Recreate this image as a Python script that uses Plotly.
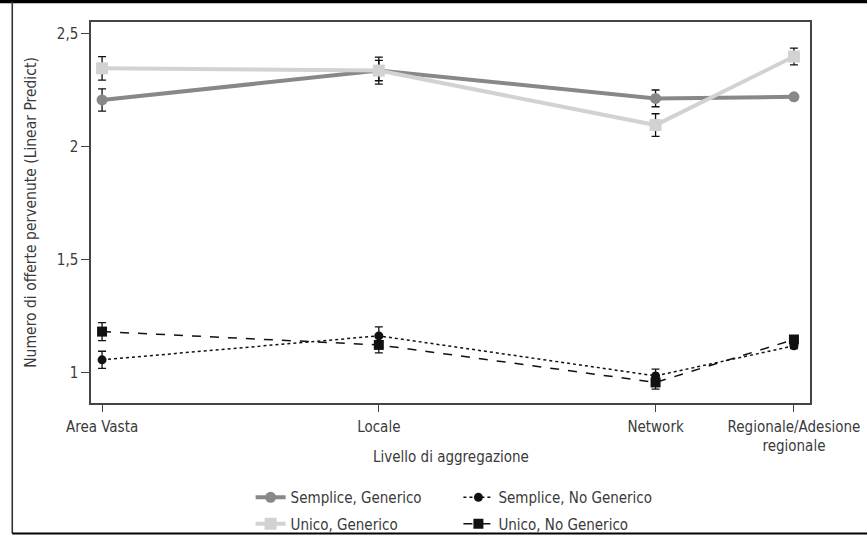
import plotly.graph_objects as go

# Aggregation levels and where they sit along the x axis
levels = ["Area Vasta", "Locale", "Network", "Regionale/Adesione<br>regionale"]
level_pos = [1, 2, 3, 3.5]

# Linear predictions and their confidence half-widths
semplice_gen = [2.208, 2.338, 2.215, 2.222]
semplice_gen_err = [0.049, 0.045, 0.037, 0.012]

unico_gen = [2.348, 2.338, 2.097, 2.400]
unico_gen_err = [0.052, 0.060, 0.050, 0.037]

semplice_nogen = [1.058, 1.164, 0.987, 1.120]
semplice_nogen_err = [0.038, 0.040, 0.030, 0.012]

unico_nogen = [1.183, 1.124, 0.958, 1.148]
unico_nogen_err = [0.040, 0.035, 0.030, 0.012]

y_ticks = [1, 1.5, 2, 2.5]
y_tick_text = ["1", "1,5", "2", "2,5"]

FONT = "Liberation Sans Narrow, Arial Narrow, DejaVu Sans Condensed, sans-serif"
TXT = "#3a3a3a"

err_style = dict(type="data", visible=True, color="#111111", thickness=1.3, width=4)

fig = go.Figure()

fig.add_trace(go.Scatter(
    x=level_pos, y=semplice_gen, name="Semplice, Generico", mode="lines+markers",
    line=dict(color="#888888", width=4),
    marker=dict(symbol="circle", size=11, color="#888888"),
    error_y=dict(array=semplice_gen_err, **err_style),
    legend="legend", legendgroup="a",
))
fig.add_trace(go.Scatter(
    x=level_pos, y=unico_gen, name="Unico, Generico", mode="lines+markers",
    line=dict(color="#d2d2d2", width=4),
    marker=dict(symbol="square", size=12, color="#d2d2d2"),
    error_y=dict(array=unico_gen_err, **err_style),
    legend="legend", legendgroup="b",
))
fig.add_trace(go.Scatter(
    x=level_pos, y=semplice_nogen, name="Semplice, No Generico", mode="lines+markers",
    line=dict(color="#111111", width=1.5, dash="dot"),
    marker=dict(symbol="circle", size=9, color="#111111"),
    error_y=dict(array=semplice_nogen_err, **err_style),
    legend="legend2", legendgroup="c",
))
fig.add_trace(go.Scatter(
    x=level_pos, y=unico_nogen, name="Unico, No Generico", mode="lines+markers",
    line=dict(color="#111111", width=1.5, dash="dash"),
    marker=dict(symbol="square", size=10, color="#111111"),
    error_y=dict(array=unico_nogen_err, **err_style),
    legend="legend2", legendgroup="d",
))

# Outer frame: heavy rule on top, thin rules left and bottom
frame = [
    dict(x0=-0.13, x1=1.08, y0=1.054, y1=1.054, width=3.5, color="#000000"),
    dict(x0=-0.1095, x1=-0.1095, y0=1.054, y1=-0.3425, width=1.6, color="#333333"),
    dict(x0=-0.1095, x1=1.08, y0=-0.3425, y1=-0.3425, width=2, color="#000000"),
]
for f in frame:
    fig.add_shape(type="line", xref="paper", yref="paper",
                  x0=f["x0"], x1=f["x1"], y0=f["y0"], y1=f["y1"],
                  line=dict(color=f["color"], width=f["width"]))

fig.add_annotation(text="Livello di aggregazione", xref="paper", yref="paper",
                   x=0.5, y=-0.142, showarrow=False, yanchor="middle",
                   font=dict(family=FONT, size=15, color=TXT))

legend_common = dict(orientation="v", yanchor="top", xanchor="left",
                     traceorder="grouped", tracegroupgap=4,
                     font=dict(family=FONT, size=15, color=TXT),
                     bgcolor="rgba(0,0,0,0)", borderwidth=0)

fig.update_layout(
    width=867, height=535,
    margin=dict(l=91, r=57, t=22, b=132, autoexpand=False),
    paper_bgcolor="white", plot_bgcolor="white",
    font=dict(family=FONT, size=15, color=TXT),
    showlegend=True,
    legend=dict(x=0.222, y=-0.205, **legend_common),
    legend2=dict(x=0.511, y=-0.205, **legend_common),
    xaxis=dict(
        range=[0.96, 3.558], tickvals=level_pos, ticktext=levels,
        ticks="outside", ticklen=7, tickcolor="#444444", tickwidth=1.2,
        showline=True, linecolor="#444444", linewidth=1.5, mirror=True,
        showgrid=False, zeroline=False, ticklabelstandoff=2,
        tickfont=dict(family=FONT, size=15, color=TXT),
    ),
    yaxis=dict(
        range=[0.867, 2.553], tickvals=y_ticks, ticktext=y_tick_text,
        ticks="outside", ticklen=8, tickcolor="#444444", tickwidth=1.2,
        showline=True, linecolor="#444444", linewidth=1.5, mirror=True,
        showgrid=False, zeroline=False,
        tickfont=dict(family=FONT, size=15, color=TXT),
        title=dict(text="Numero di offerte pervenute (Linear Predict)", standoff=16,
                   font=dict(family=FONT, size=15.5, color=TXT)),
    ),
)

fig.write_html("out.html")
